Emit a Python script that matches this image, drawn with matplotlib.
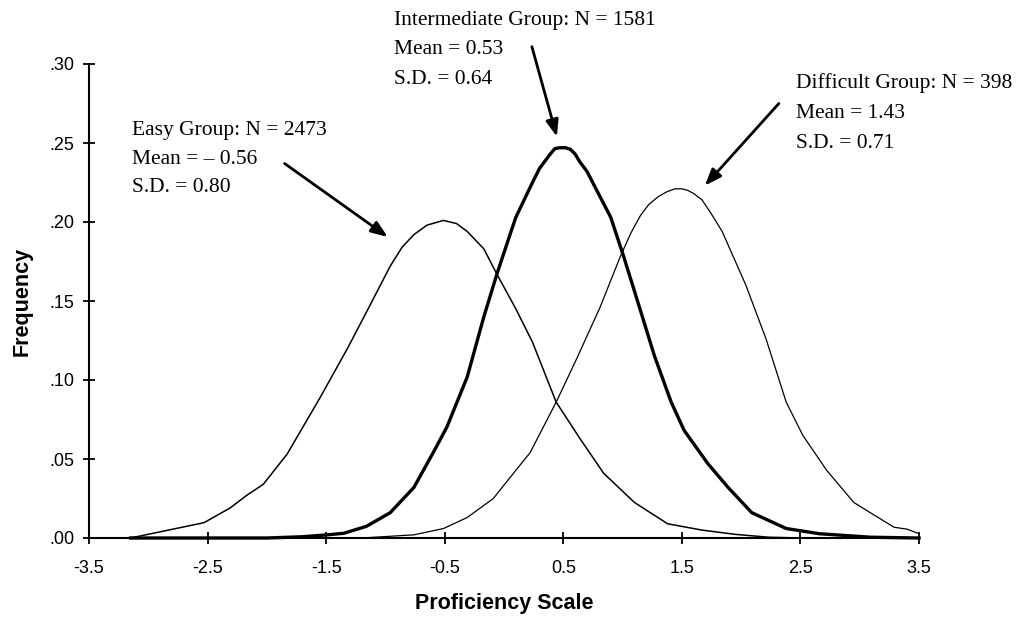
import matplotlib
matplotlib.use("Agg")
import matplotlib.pyplot as plt
from matplotlib.ticker import FuncFormatter

# ── values ────────────────────────────────────────────────────────────────
easy_x = [-3.15, -2.53, -2.31, -2.17, -2.03, -1.83, -1.55, -1.32, -1.16, -0.96,
          -0.86, -0.76, -0.65, -0.51, -0.40, -0.31, -0.17, -0.06, 0.10, 0.24,
          0.44, 0.64, 0.84, 1.10, 1.38, 1.67, 1.95, 2.23, 2.50, 3.50]
easy_y = [0.0, 0.0097, 0.019, 0.027, 0.034, 0.053, 0.089, 0.120, 0.143, 0.172,
          0.184, 0.192, 0.198, 0.201, 0.199, 0.194, 0.183, 0.167, 0.145, 0.124,
          0.086, 0.063, 0.041, 0.0225, 0.009, 0.005, 0.0023, 0.0005, 0.0, 0.0]

inter_x = [-3.15, -2.00, -1.70, -1.49, -1.35, -1.16, -0.96, -0.76, -0.59, -0.48,
           -0.31, -0.17, -0.06, 0.055, 0.10, 0.24, 0.30, 0.39, 0.43, 0.47,
           0.52, 0.56, 0.60, 0.64, 0.70, 0.81, 0.90, 1.01, 1.13, 1.27,
           1.41, 1.52, 1.72, 1.89, 2.09, 2.38, 2.66, 3.09, 3.50]
inter_y = [0.0, 0.0, 0.0008, 0.002, 0.003, 0.0074, 0.016, 0.032, 0.055, 0.0705,
           0.102, 0.140, 0.167, 0.193, 0.203, 0.225, 0.234, 0.243, 0.2465, 0.247,
           0.247, 0.246, 0.243, 0.238, 0.232, 0.216, 0.203, 0.178, 0.149, 0.115,
           0.086, 0.068, 0.047, 0.032, 0.016, 0.006, 0.0027, 0.0005, 0.0]

diff_x = [-3.15, -1.20, -0.76, -0.51, -0.31, -0.09, 0.08, 0.22, 0.44, 0.61,
          0.81, 0.98, 1.07, 1.15, 1.22, 1.30, 1.37, 1.44, 1.50, 1.55,
          1.60, 1.67, 1.75, 1.84, 2.04, 2.21, 2.38, 2.52, 2.72, 2.95,
          3.12, 3.29, 3.40, 3.50]
diff_y = [0.0, 0.0, 0.002, 0.006, 0.013, 0.025, 0.041, 0.054, 0.086, 0.113,
          0.146, 0.178, 0.193, 0.204, 0.211, 0.216, 0.219, 0.221, 0.221, 0.220,
          0.218, 0.214, 0.205, 0.194, 0.160, 0.126, 0.086, 0.065, 0.043, 0.0225,
          0.0146, 0.0068, 0.0056, 0.0027]

x_ticks = [-3.5, -2.5, -1.5, -0.5, 0.5, 1.5, 2.5, 3.5]
y_ticks = [0.00, 0.05, 0.10, 0.15, 0.20, 0.25, 0.30]

easy_label = ["Easy Group: N = 2473", "Mean = \u2013 0.56", "S.D. = 0.80"]
inter_label = ["Intermediate Group: N = 1581", "Mean = 0.53", "S.D. = 0.64"]
diff_label = ["Difficult Group: N = 398", "Mean = 1.43", "S.D. = 0.71"]

plt.rcParams['font.family'] = ['Liberation Sans', 'DejaVu Sans']

W, H = 1028, 628
fig = plt.figure(figsize=(W / 100, H / 100), dpi=100)
ax = fig.add_axes([89 / W, 1 - 538 / H, (919 - 89) / W, (538 - 64) / H])

ax.plot(easy_x, easy_y, color='black', linewidth=1.1, clip_on=False)
ax.plot(diff_x, diff_y, color='black', linewidth=0.9, clip_on=False)
ax.plot(inter_x, inter_y, color='black', linewidth=2.4, clip_on=False)

ax.set_xlim(-3.5, 3.5)
ax.set_ylim(0, 0.30)
ax.set_xticks(x_ticks)
ax.set_xticklabels([f"{v:g}" for v in x_ticks])
ax.set_yticks(y_ticks)
ax.yaxis.set_major_formatter(FuncFormatter(lambda v, p: f"{v:.2f}".lstrip("0")))

for side in ('top', 'right'):
    ax.spines[side].set_visible(False)
for side in ('left', 'bottom'):
    ax.spines[side].set_linewidth(1.5)

ax.tick_params(axis='both', direction='inout', length=9, width=1.3, labelsize=13)
ax.tick_params(axis='x', pad=11)
ax.tick_params(axis='y', pad=6)

ax.set_xlabel("Proficiency Scale", fontsize=15.5, fontweight='bold', labelpad=12)
ax.set_ylabel("Frequency", fontsize=15.5, fontweight='bold', labelpad=12)


def block(lines, left, centers):
    for txt, cy in zip(lines, centers):
        fig.text(left / W, 1 - cy / H, txt, family=['Liberation Serif', 'DejaVu Serif'],
                 fontsize=15.5, ha='left', va='center')


block(easy_label, 132, [130, 159, 188])
block(inter_label, 394, [21, 50, 80])
block(diff_label, 796, [83, 113, 143])

arrow = dict(arrowstyle='-|>,head_length=1.0,head_width=0.38', color='black',
             linewidth=2.0, shrinkA=0, shrinkB=0)
ax.annotate("", xy=(-0.98, 0.1905), xytext=(-1.85, 0.237), arrowprops=arrow,
            annotation_clip=False)
ax.annotate("", xy=(0.446, 0.254), xytext=(0.235, 0.311), arrowprops=arrow,
            annotation_clip=False)
ax.annotate("", xy=(1.694, 0.223), xytext=(2.318, 0.275), arrowprops=arrow,
            annotation_clip=False)

fig.savefig("out.png", dpi=100)
